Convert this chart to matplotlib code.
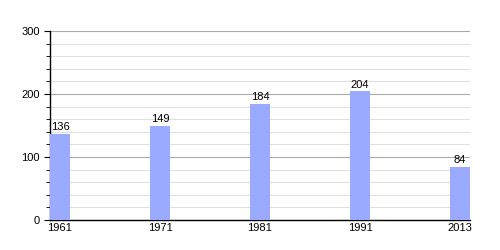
import matplotlib
matplotlib.use("Agg")
import matplotlib.pyplot as plt
from matplotlib.ticker import MultipleLocator

plt.rcParams["font.family"] = ["Liberation Sans", "DejaVu Sans"]

# Population by census year
years = ["1961", "1971", "1981", "1991", "2013"]
population = [136, 149, 184, 204, 84]

fig = plt.figure(figsize=(5, 2.5), dpi=100)
ax = fig.add_axes([0.1, 0.12, 0.84, 0.756])

positions = range(len(years))
ax.bar(positions, population, width=0.2, color="#99aaff", zorder=3)

for x, v in zip(positions, population):
    ax.text(x, v + 3, str(v), ha="center", va="bottom", fontsize=8, zorder=4)

ax.set_xlim(-0.1, 4.1)
ax.set_ylim(0, 300)
ax.set_xticks(list(positions))
ax.set_xticklabels(years)
ax.yaxis.set_major_locator(MultipleLocator(100))
ax.yaxis.set_minor_locator(MultipleLocator(20))

ax.grid(axis="y", which="major", color="#aaaaaa", linewidth=0.8, zorder=0)
ax.grid(axis="y", which="minor", color="#e0e0e0", linewidth=0.8, zorder=0)

for side in ("top", "right"):
    ax.spines[side].set_visible(False)
ax.spines["left"].set_linewidth(1)
ax.spines["bottom"].set_linewidth(1)

ax.tick_params(axis="x", length=0, labelsize=8, pad=2)
ax.tick_params(axis="y", which="major", length=4, labelsize=8)
ax.tick_params(axis="y", which="minor", length=3)

fig.savefig("out.png", dpi=100)
